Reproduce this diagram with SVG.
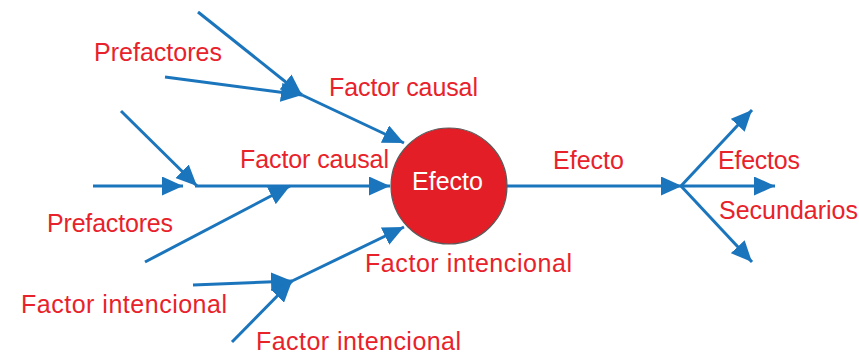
<svg xmlns="http://www.w3.org/2000/svg" width="859" height="355" viewBox="0 0 859 355">
<style>
.c{stroke:#1b75bc;stroke-width:3;fill:none;marker-end:url(#ah)}
.t{font-family:"Liberation Sans",Arial,sans-serif;font-size:25px;fill:#e8222b}
.w{fill:#ffffff}
</style>
<defs>
<marker id="ah" markerUnits="userSpaceOnUse" markerWidth="22" markerHeight="19" refX="21" refY="9.5" orient="auto">
<path d="M0,0 L21,9.5 L0,19 z" fill="#1b75bc"/>
</marker>
</defs>
<rect width="859" height="355" fill="#ffffff"/>
<g id="connectors">
<line class="c" x1="198" y1="12" x2="302" y2="95"/>
<line class="c" x1="165" y1="77" x2="302" y2="95"/>
<line class="c" x1="302" y1="95" x2="404" y2="143"/>
<line class="c" x1="121" y1="111" x2="197" y2="186"/>
<line class="c" x1="93" y1="186" x2="183" y2="186"/>
<line class="c" x1="195" y1="186" x2="390" y2="186"/>
<line class="c" x1="145" y1="262" x2="290" y2="186"/>
<line class="c" x1="193" y1="285" x2="292" y2="281"/>
<line class="c" x1="232" y1="342" x2="292" y2="281"/>
<line class="c" x1="290" y1="282" x2="404" y2="227"/>
<line class="c" x1="507" y1="186" x2="682" y2="186"/>
<line class="c" x1="681" y1="186" x2="752" y2="110"/>
<line class="c" x1="681" y1="186" x2="775" y2="186"/>
<line class="c" x1="681" y1="186" x2="752" y2="262"/>
</g>
<g id="efecto-node">
<circle cx="449" cy="186" r="58" fill="#e31e26" stroke="#5a5a5a" stroke-width="1.2"/>
<text class="t w" x="412" y="190" textLength="71" lengthAdjust="spacing">Efecto</text>
</g>
<g id="label-prefactores-top"><text class="t" x="94" y="61" textLength="128" lengthAdjust="spacing">Prefactores</text></g>
<g id="label-factor-causal-top"><text class="t" x="329" y="96" textLength="149" lengthAdjust="spacing">Factor causal</text></g>
<g id="label-factor-causal-mid"><text class="t" x="240" y="168" textLength="149" lengthAdjust="spacing">Factor causal</text></g>
<g id="label-prefactores-low"><text class="t" x="47" y="232" textLength="126" lengthAdjust="spacing">Prefactores</text></g>
<g id="label-factor-intencional-left"><text class="t" x="21" y="313" textLength="206" lengthAdjust="spacing">Factor intencional</text></g>
<g id="label-factor-intencional-bottom"><text class="t" x="256" y="350" textLength="205" lengthAdjust="spacing">Factor intencional</text></g>
<g id="label-factor-intencional-right"><text class="t" x="365" y="272" textLength="207" lengthAdjust="spacing">Factor intencional</text></g>
<g id="label-efecto"><text class="t" x="553" y="169" textLength="71" lengthAdjust="spacing">Efecto</text></g>
<g id="label-efectos"><text class="t" x="718" y="169" textLength="82" lengthAdjust="spacing">Efectos</text></g>
<g id="label-secundarios"><text class="t" x="719" y="219" textLength="139" lengthAdjust="spacing">Secundarios</text></g>
</svg>
